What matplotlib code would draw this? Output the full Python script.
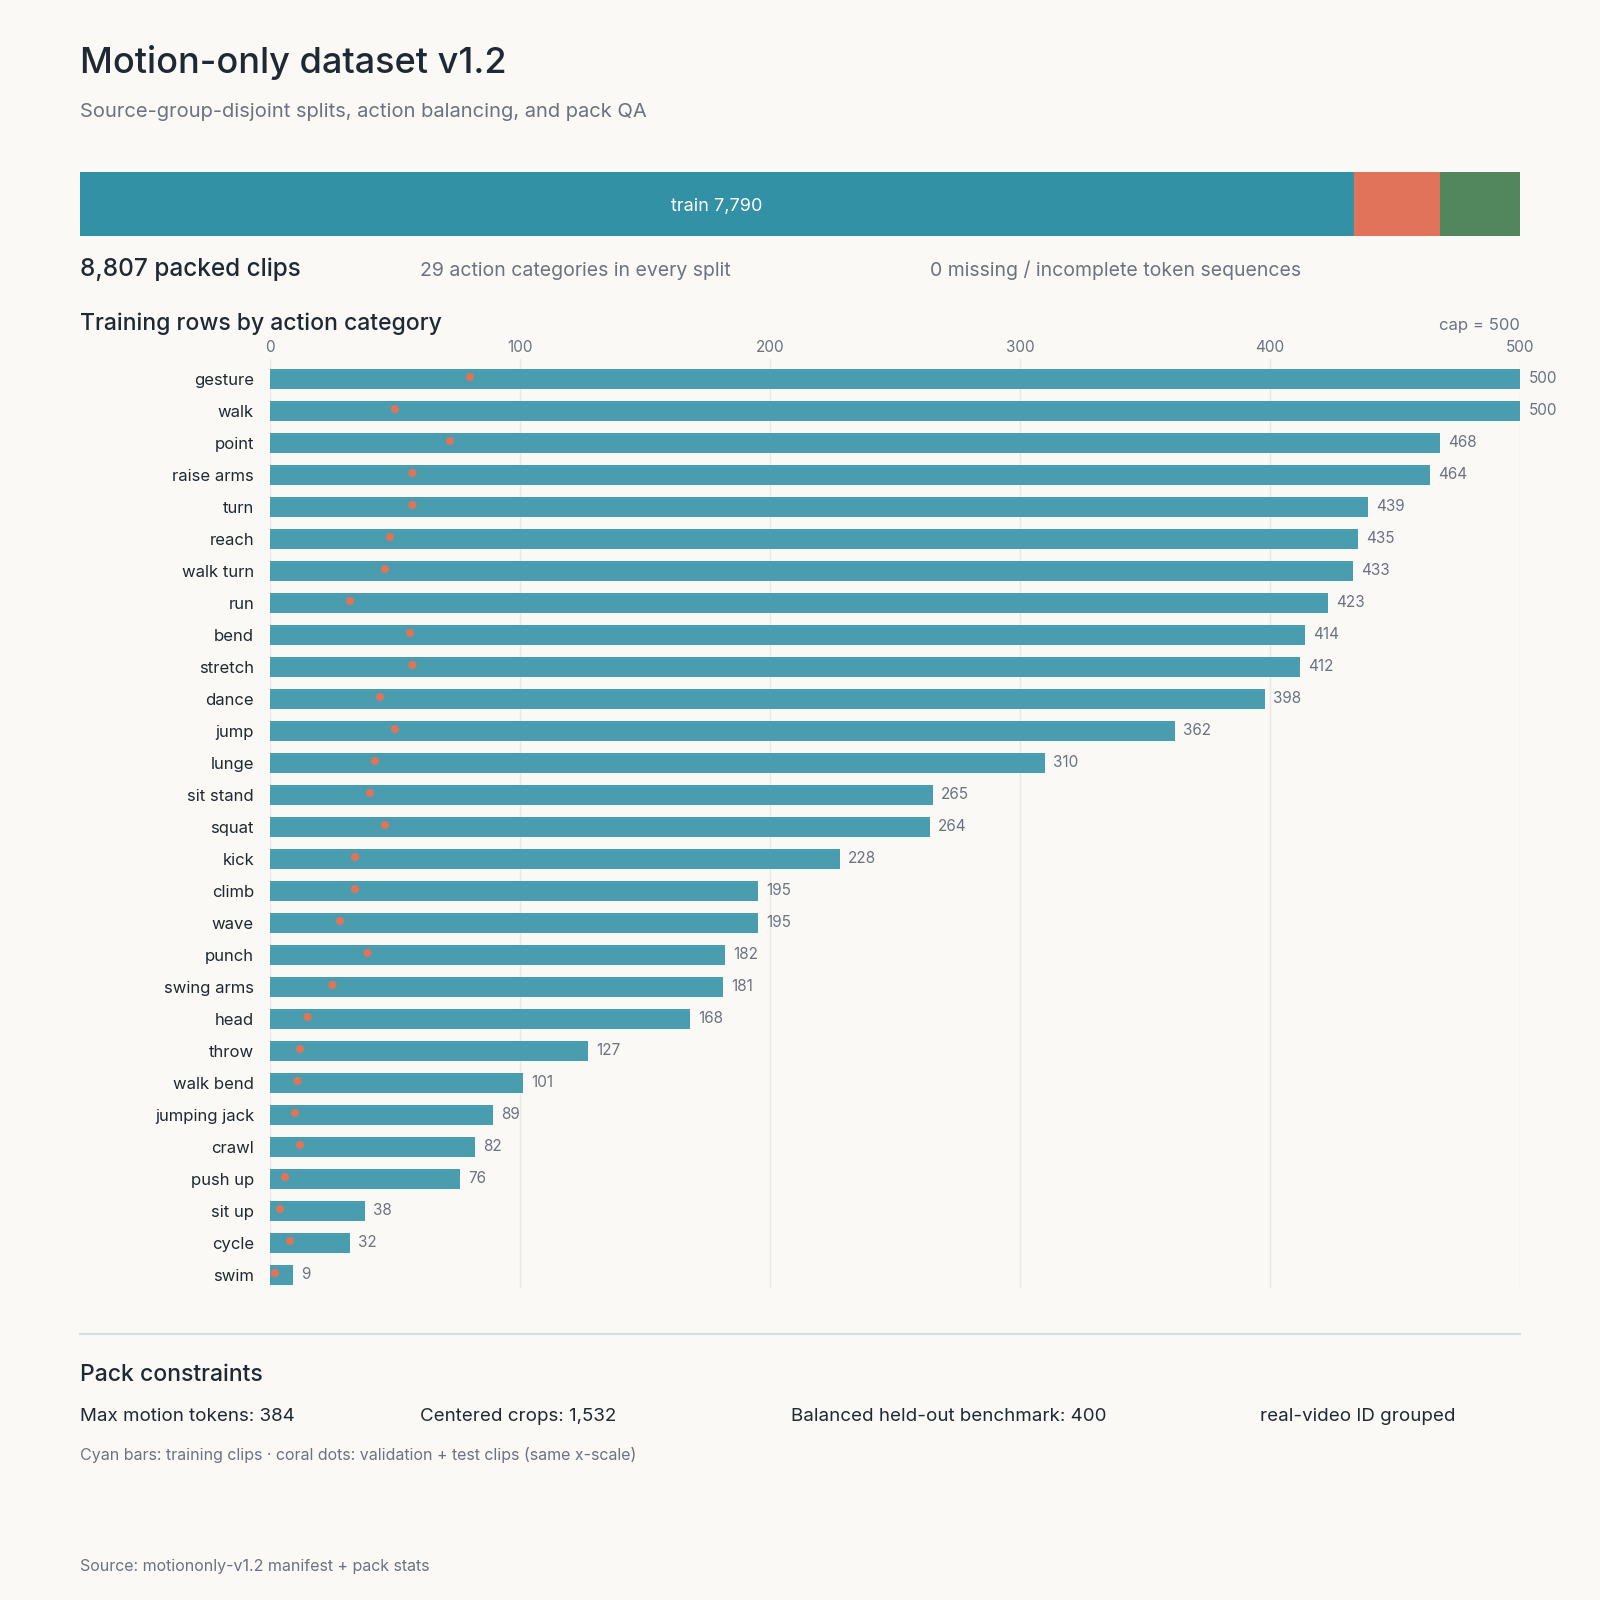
import matplotlib
matplotlib.use("Agg")
import matplotlib.pyplot as plt
from matplotlib.lines import Line2D

plt.rcParams['font.family'] = ['Inter', 'DejaVu Sans']

categories = ["gesture", "walk", "point", "raise arms", "turn", "reach", "walk turn", "run",
              "bend", "stretch", "dance", "jump", "lunge", "sit stand", "squat", "kick",
              "climb", "wave", "punch", "swing arms", "head", "throw", "walk bend",
              "jumping jack", "crawl", "push up", "sit up", "cycle", "swim"]
train_counts = [500, 500, 468, 464, 439, 435, 433, 423, 414, 412, 398, 362, 310, 265, 264, 228,
                195, 195, 182, 181, 168, 127, 101, 89, 82, 76, 38, 32, 9]
heldout_counts = [80, 50, 72, 57, 57, 48, 46, 32, 56, 57, 44, 50, 42, 40, 46, 34,
                  34, 28, 39, 25, 15, 12, 11, 10, 12, 6, 4, 8, 2]

split_names = ["train", "val", "test"]
split_sizes = [7790, 528, 489]

ticks = [0, 100, 200, 300, 400, 500]
constraints = ["Max motion tokens: 384", "Centered crops: 1,532",
               "Balanced held-out benchmark: 400", "real-video ID grouped"]

BG = "#FAF9F6"
DARK = "#1F2933"
GRAY = "#6B7280"
BAR = "#4A9DAF"
SPLIT_COLORS = ["#3291A4", "#E0735A", "#52865D"]
DOT = "#E0735A"

W = H = 1600.0
fig = plt.figure(figsize=(16, 16), dpi=100, facecolor=BG)


def fx(x):
    return x / W


def fy(y):
    return 1 - y / H


def txt(x, y, s, size, color=DARK, **kw):
    fig.text(fx(x), fy(y), s, fontsize=size, color=color, va="baseline", **kw)


# header
txt(80, 73, "Motion-only dataset v1.2", 26, weight="medium")
txt(80, 117, "Source-group-disjoint splits, action balancing, and pack QA", 14.5, GRAY)

# split bar
sax = fig.add_axes([fx(80), fy(236), fx(1440), (236 - 172) / H])
left = 0
for name, size, col in zip(split_names, split_sizes, SPLIT_COLORS):
    sax.barh(0, size, left=left, height=1, color=col, edgecolor="none")
    left += size
sax.set_xlim(0, sum(split_sizes))
sax.set_ylim(-0.5, 0.5)
sax.axis("off")
train_mid = 80 + 1440 * split_sizes[0] / sum(split_sizes) / 2
txt(train_mid, 211, f"{split_names[0]} {split_sizes[0]:,}", 13, "white", ha="center")

txt(80, 276, f"{sum(split_sizes):,} packed clips", 17.5, weight="medium")
txt(420, 276, f"{len(categories)} action categories in every split", 14, GRAY)
txt(930, 276, "0 missing / incomplete token sequences", 14, GRAY)

txt(80, 330, "Training rows by action category", 16.5, weight="medium")
txt(1520, 330, "cap = 500", 12, GRAY, ha="right")

# main bar chart
ax = fig.add_axes([fx(270), fy(1288), (1520 - 270) / W, (1288 - 359) / H])
ax.set_facecolor(BG)
ypos = list(range(len(categories)))
ax.barh(ypos, train_counts, height=0.625, color=BAR, edgecolor="none", zorder=2)
ax.scatter(heldout_counts, [y - 0.05 for y in ypos], s=34, color=DOT, zorder=3,
           edgecolors="none")
for y, v in zip(ypos, train_counts):
    ax.annotate(str(v), (v, y), xytext=(6, 0), textcoords="offset points",
                fontsize=11, color=GRAY, va="center", ha="left")

ax.set_xlim(0, 500)
ax.set_ylim(28.42, -0.6125)
ax.set_xticks(ticks)
ax.xaxis.tick_top()
ax.tick_params(axis="x", length=0, pad=3, labelsize=11, labelcolor=GRAY)
ax.set_yticks(ypos)
ax.set_yticklabels(categories)
ax.tick_params(axis="y", length=0, pad=11.5, labelsize=12, labelcolor=DARK)
ax.grid(axis="x", color="#E9E8E3", lw=1, zorder=0)
for s in ax.spines.values():
    s.set_visible(False)

# footer
fig.add_artist(Line2D([fx(80), fx(1520)], [fy(1334), fy(1334)], color="#D6DEE0", lw=1.6))
txt(80, 1381, "Pack constraints", 16.5, weight="medium")
for x, s in zip([80, 420, 791, 1260], constraints):
    txt(x, 1421, s, 13.5)
txt(80, 1460, "Cyan bars: training clips · coral dots: validation + test clips (same x-scale)",
    11.5, GRAY)
txt(80, 1571, "Source: motiononly-v1.2 manifest + pack stats", 11.5, GRAY)

fig.savefig("out.png", dpi=100, facecolor=BG)
